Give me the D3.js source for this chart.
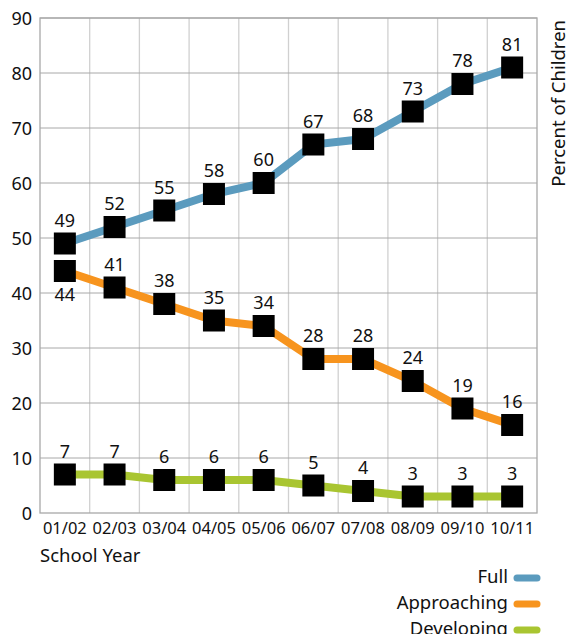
<!DOCTYPE html>
<html>
<head>
<meta charset="utf-8">
<script src="https://cdn.jsdelivr.net/npm/d3@7"></script>
<style>
  body { margin: 0; background: #fff; }
  text { font-family: "Noto Sans", "Open Sans", sans-serif; fill: #111; }
</style>
</head>
<body>
<div id="chart"></div>
<script>
var years = ["01/02", "02/03", "03/04", "04/05", "05/06", "06/07", "07/08", "08/09", "09/10", "10/11"];
var full = [49, 52, 55, 58, 60, 67, 68, 73, 78, 81];
var approaching = [44, 41, 38, 35, 34, 28, 28, 24, 19, 16];
var developing = [7, 7, 6, 6, 6, 5, 4, 3, 3, 3];
var yTicks = [0, 10, 20, 30, 40, 50, 60, 70, 80, 90];

var series = [
  {name: "Full", values: full, color: "#5b9bbe", below: false},
  {name: "Approaching", values: approaching, color: "#f7941e", below: true},
  {name: "Developing", values: developing, color: "#a9c531", below: false}
];

var width = 568, height = 634;
var plotLeft = 40, plotRight = 537, plotTop = 18, plotBottom = 513;

var svg = d3.select("#chart").append("svg")
  .attr("width", width)
  .attr("height", height);

var x = d3.scaleBand().domain(years).range([plotLeft, plotRight]);
var y = d3.scaleLinear().domain([0, 90]).range([plotBottom, plotTop]);

// grid
svg.append("g").selectAll("line")
  .data(years.slice(1))
  .enter().append("line")
  .attr("x1", d => x(d)).attr("x2", d => x(d))
  .attr("y1", plotTop).attr("y2", plotBottom)
  .attr("stroke", "#d0d0d0").attr("stroke-width", 1.3);

svg.append("g").selectAll("line")
  .data(yTicks.slice(1))
  .enter().append("line")
  .attr("x1", plotLeft).attr("x2", plotRight)
  .attr("y1", d => y(d)).attr("y2", d => y(d))
  .attr("stroke", "#a8a8a8").attr("stroke-width", 1);

svg.append("rect")
  .attr("x", plotLeft).attr("y", plotTop)
  .attr("width", plotRight - plotLeft).attr("height", plotBottom - plotTop)
  .attr("fill", "none").attr("stroke", "#a8a8a8").attr("stroke-width", 1.3);

// y axis labels
svg.append("g").selectAll("text")
  .data(yTicks)
  .enter().append("text")
  .attr("x", 32).attr("y", d => y(d) + 6.5)
  .attr("text-anchor", "end")
  .style("font-size", "18px")
  .text(d => d);

// x axis labels
svg.append("g").selectAll("text")
  .data(years)
  .enter().append("text")
  .attr("x", d => x(d) + x.bandwidth() / 2)
  .attr("y", 534)
  .attr("text-anchor", "middle")
  .style("font-size", "16.5px")
  .text(d => d);

svg.append("text")
  .attr("x", 40).attr("y", 562)
  .style("font-size", "18.5px")
  .text("School Year");

svg.append("text")
  .attr("transform", "translate(565,20) rotate(-90)")
  .attr("text-anchor", "end")
  .style("font-size", "18.5px")
  .text("Percent of Children");

var line = d3.line()
  .x((d, i) => x(years[i]) + x.bandwidth() / 2)
  .y(d => y(d));

series.forEach(function(s) {
  var g = svg.append("g");
  g.append("path")
    .attr("d", line(s.values))
    .attr("fill", "none")
    .attr("stroke", s.color)
    .attr("stroke-width", 8);
  g.selectAll("rect")
    .data(s.values)
    .enter().append("rect")
    .attr("x", (d, i) => x(years[i]) + x.bandwidth() / 2 - 11)
    .attr("y", d => y(d) - 11)
    .attr("width", 22).attr("height", 22)
    .attr("fill", "#000");
  g.selectAll("text")
    .data(s.values)
    .enter().append("text")
    .attr("x", (d, i) => x(years[i]) + x.bandwidth() / 2)
    .attr("y", (d, i) => (s.below && i === 0) ? y(d) + 30 : y(d) - 17)
    .attr("text-anchor", "middle")
    .style("font-size", "18px")
    .text(d => d);
});

// legend
var legend = svg.append("g").selectAll("g")
  .data(series)
  .enter().append("g")
  .attr("transform", (d, i) => "translate(0," + (577 + i * 26) + ")");

legend.append("text")
  .attr("x", 508).attr("y", 6)
  .attr("text-anchor", "end")
  .style("font-size", "18.5px")
  .text(d => d.name);

legend.append("line")
  .attr("x1", 517).attr("x2", 537)
  .attr("y1", 1).attr("y2", 1)
  .attr("stroke", d => d.color)
  .attr("stroke-width", 7)
  .attr("stroke-linecap", "round");
</script>
</body>
</html>
